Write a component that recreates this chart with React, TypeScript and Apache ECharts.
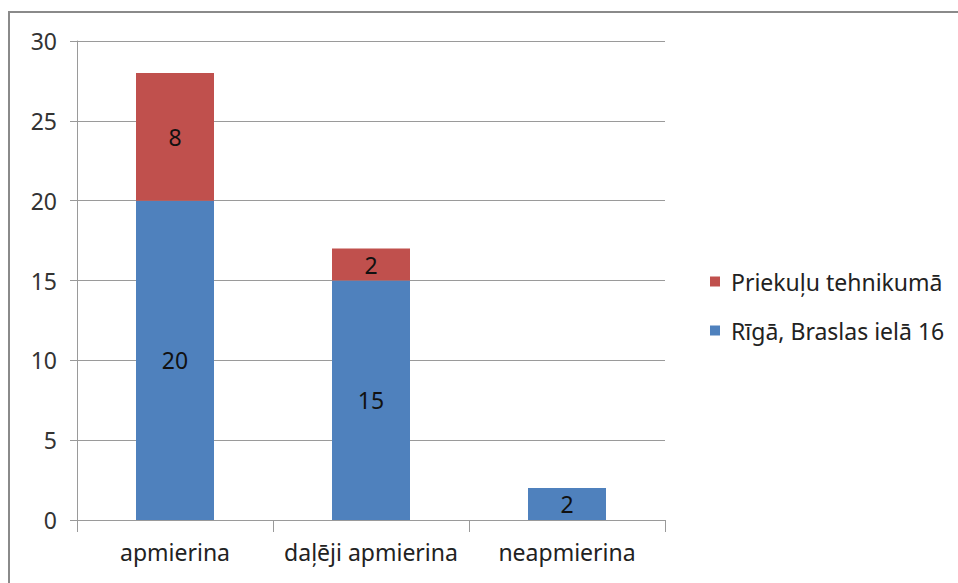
import React, { useEffect, useRef } from "react";
import * as echarts from "echarts";

const categories = ["apmierina", "daļēji apmierina", "neapmierina"];
const seriesNames = ["Rīgā, Braslas ielā 16", "Priekuļu tehnikumā"];
const rigaValues = [20, 15, 2];
const priekuliValues = [8, 2, null];
const yTicks = { min: 0, max: 30, interval: 5 };

const FONT = "'Noto Sans', 'Open Sans', sans-serif";
const FS = 23;

export default function App() {
  const ref = useRef<HTMLDivElement>(null);
  useEffect(() => {
    if (!ref.current) return;
    const chart = echarts.init(ref.current, undefined, { renderer: "svg" });
    chart.setOption({
      animation: false,
      backgroundColor: "#ffffff",
      textStyle: { fontFamily: FONT },
      graphic: [
        {
          type: "rect",
          shape: { x: 9, y: 12, width: 1000, height: 700 },
          style: { fill: "none", stroke: "#8a8a8a", lineWidth: 2 },
          silent: true,
        },
      ],
      grid: { left: 77, right: 293, top: 41, bottom: 63, containLabel: false },
      legend: {
        orient: "vertical",
        left: 705,
        top: 265,
        itemWidth: 10,
        itemHeight: 10,
        itemGap: 26,
        icon: "rect",
        data: [seriesNames[1], seriesNames[0]],
        textStyle: {
          fontFamily: FONT,
          fontSize: FS,
          color: "#222",
          lineHeight: 23,
          padding: [0, 0, 0, 6],
        },
      },
      xAxis: {
        type: "category",
        data: categories,
        axisLine: { show: true, lineStyle: { color: "#9a9a9a", width: 1 } },
        axisTick: { show: true, length: 12, alignWithLabel: false, lineStyle: { color: "#9a9a9a" } },
        axisLabel: { interval: 0, fontFamily: FONT, fontSize: FS, color: "#222", margin: 20 },
      },
      yAxis: {
        type: "value",
        min: yTicks.min,
        max: yTicks.max,
        interval: yTicks.interval,
        axisLine: { show: true, lineStyle: { color: "#9a9a9a", width: 1 } },
        axisTick: { show: true, length: 7, lineStyle: { color: "#9a9a9a" } },
        axisLabel: { fontFamily: FONT, fontSize: FS, color: "#333", margin: 20 },
        splitLine: { show: true, lineStyle: { color: "#9a9a9a", width: 1 } },
      },
      series: [
        {
          name: seriesNames[0],
          type: "bar",
          stack: "total",
          barWidth: 78,
          data: rigaValues,
          itemStyle: { color: "#4f81bd" },
          label: { show: true, position: "inside", fontFamily: FONT, fontSize: FS, color: "#111" },
        },
        {
          name: seriesNames[1],
          type: "bar",
          stack: "total",
          barWidth: 78,
          data: priekuliValues,
          itemStyle: { color: "#c0504d" },
          label: { show: true, position: "inside", fontFamily: FONT, fontSize: FS, color: "#111" },
        },
      ],
    });
    return () => chart.dispose();
  }, []);
  return (
    <div
      ref={ref}
      style={{ position: "fixed", left: 0, top: 0, width: 958, height: 583, background: "#fff" }}
    />
  );
}
